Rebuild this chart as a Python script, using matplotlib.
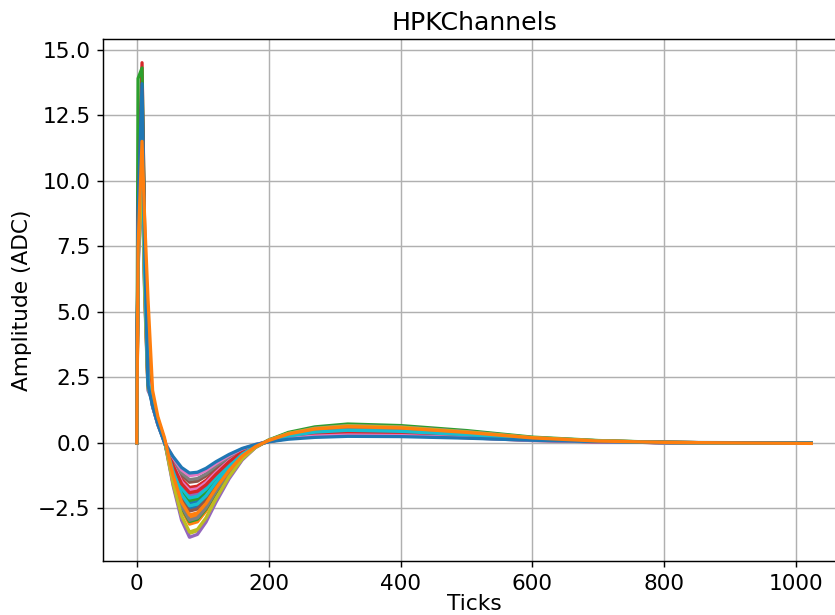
import matplotlib
matplotlib.use("Agg")
import matplotlib.pyplot as plt

# sample ticks used for every channel
ticks = [0, 2, 8, 12, 17, 24, 32, 42, 55, 68, 80, 92, 105, 120, 140, 160,
         180, 200, 230, 270, 320, 400, 500, 600, 700, 800, 900, 1023]

# amplitudes (ADC) per channel at the ticks above
ch00 = [0, 8.3, 12.8, 7.0, 2.6, 1.5, 0.8, 0.05, -1.04, -1.89, -2.3, -2.23, -1.93, -1.45, -0.87, -0.41,
        -0.12, 0.07, 0.25, 0.39, 0.46, 0.42, 0.3, 0.14, 0.06, 0.01, 0.0, -0.01]
ch01 = [0, 7.2, 11.0, 6.1, 2.2, 1.6, 0.85, 0.1, -1.28, -2.34, -2.85, -2.76, -2.39, -1.8, -1.08, -0.51,
        -0.14, 0.09, 0.33, 0.51, 0.6, 0.55, 0.39, 0.18, 0.07, 0.02, 0.0, -0.01]
ch02 = [0, 8.6, 13.2, 7.3, 2.6, 1.5, 0.8, 0.05, -0.99, -1.8, -2.2, -2.13, -1.85, -1.39, -0.84, -0.4,
        -0.11, 0.07, 0.25, 0.38, 0.45, 0.41, 0.29, 0.14, 0.05, 0.01, 0.0, -0.01]
ch03 = [0, 9.4, 14.5, 8.0, 2.9, 1.4, 0.75, 0.05, -0.77, -1.39, -1.7, -1.65, -1.43, -1.07, -0.65, -0.31,
        -0.09, 0.05, 0.19, 0.3, 0.35, 0.32, 0.23, 0.11, 0.04, 0.01, 0.0, -0.01]
ch04 = [0, 7.8, 12.0, 6.6, 2.4, 1.5, 0.8, 0.05, -0.9, -1.64, -2.0, -1.94, -1.68, -1.26, -0.76, -0.36,
        -0.1, 0.06, 0.22, 0.34, 0.4, 0.37, 0.26, 0.12, 0.05, 0.01, 0.0, -0.01]
ch05 = [0, 8.1, 12.5, 6.9, 2.5, 1.4, 0.7, 0.05, -0.68, -1.23, -1.5, -1.46, -1.26, -0.95, -0.57, -0.27,
        -0.08, 0.05, 0.18, 0.27, 0.32, 0.29, 0.21, 0.1, 0.04, 0.01, 0.0, -0.01]
ch06 = [0, 7.7, 11.8, 6.5, 2.4, 1.5, 0.75, 0.05, -0.81, -1.48, -1.8, -1.75, -1.51, -1.13, -0.68, -0.32,
        -0.09, 0.06, 0.2, 0.31, 0.37, 0.34, 0.24, 0.11, 0.04, 0.01, 0.0, -0.01]
ch07 = [0, 7.9, 12.2, 6.7, 2.4, 1.4, 0.7, 0.05, -0.63, -1.15, -1.4, -1.36, -1.18, -0.88, -0.53, -0.25,
        -0.07, 0.05, 0.17, 0.26, 0.3, 0.28, 0.2, 0.09, 0.04, 0.01, 0.0, -0.01]
ch08 = [0, 6.8, 10.5, 5.8, 2.1, 1.6, 0.9, 0.1, -1.55, -2.83, -3.45, -3.35, -2.9, -2.17, -1.31, -0.62,
        -0.17, 0.1, 0.37, 0.58, 0.68, 0.63, 0.44, 0.2, 0.08, 0.02, 0.0, -0.01]
ch09 = [0, 8.2, 12.6, 6.9, 2.5, 1.5, 0.8, 0.05, -0.95, -1.72, -2.1, -2.04, -1.76, -1.32, -0.8, -0.38,
        -0.11, 0.06, 0.24, 0.37, 0.43, 0.4, 0.28, 0.13, 0.05, 0.01, 0.0, -0.01]
ch10 = [0, 8.5, 13.0, 7.2, 2.6, 1.5, 0.8, 0.05, -1.13, -2.05, -2.5, -2.43, -2.1, -1.58, -0.95, -0.45,
        -0.13, 0.08, 0.28, 0.43, 0.5, 0.46, 0.33, 0.15, 0.06, 0.02, 0.0, -0.01]
ch11 = [0, 7.0, 10.8, 5.9, 2.2, 1.6, 0.9, 0.1, -1.4, -2.54, -3.1, -3.01, -2.6, -1.95, -1.18, -0.56,
        -0.16, 0.09, 0.34, 0.53, 0.62, 0.57, 0.4, 0.19, 0.07, 0.02, 0.0, -0.01]
ch12 = [0, 13.9, 14.3, 7.9, 2.9, 1.6, 0.85, 0.1, -1.35, -2.46, -3.0, -2.91, -2.52, -1.89, -1.14, -0.54,
        -0.15, 0.11, 0.4, 0.61, 0.72, 0.66, 0.47, 0.22, 0.09, 0.02, 0.0, -0.01]
ch13 = [0, 8.8, 13.5, 7.4, 2.7, 1.5, 0.8, 0.05, -0.86, -1.56, -1.9, -1.84, -1.6, -1.2, -0.72, -0.34,
        -0.1, 0.06, 0.21, 0.32, 0.38, 0.35, 0.25, 0.11, 0.05, 0.01, 0.0, -0.01]
ch14 = [0, 6.6, 10.2, 5.6, 2.0, 1.6, 0.9, 0.1, -1.62, -2.95, -3.6, -3.49, -3.02, -2.27, -1.37, -0.65,
        -0.18, 0.1, 0.36, 0.56, 0.66, 0.61, 0.43, 0.2, 0.08, 0.02, 0.0, -0.01]
ch15 = [0, 7.5, 11.5, 6.3, 2.3, 1.5, 0.8, 0.05, -1.17, -2.13, -2.6, -2.52, -2.18, -1.64, -0.99, -0.47,
        -0.13, 0.08, 0.29, 0.44, 0.52, 0.48, 0.34, 0.16, 0.06, 0.02, 0.0, -0.01]
ch16 = [0, 8.1, 12.4, 6.8, 2.5, 1.4, 0.7, 0.05, -0.56, -1.03, -1.25, -1.21, -1.05, -0.79, -0.48, -0.23,
        -0.06, 0.05, 0.17, 0.26, 0.3, 0.28, 0.2, 0.09, 0.04, 0.01, 0.0, -0.01]
ch17 = [0, 7.3, 11.2, 6.2, 2.2, 1.6, 0.85, 0.1, -1.33, -2.42, -2.95, -2.86, -2.48, -1.86, -1.12, -0.53,
        -0.15, 0.09, 0.32, 0.49, 0.58, 0.53, 0.38, 0.17, 0.07, 0.02, 0.0, -0.01]
ch18 = [0, 6.9, 10.6, 5.8, 2.1, 1.6, 0.9, 0.1, -1.53, -2.79, -3.4, -3.3, -2.86, -2.14, -1.29, -0.61,
        -0.17, 0.1, 0.36, 0.55, 0.65, 0.6, 0.42, 0.2, 0.08, 0.02, 0.0, -0.01]
ch19 = [0, 7.8, 12.0, 6.6, 2.4, 1.5, 0.8, 0.05, -1.08, -1.97, -2.4, -2.33, -2.02, -1.51, -0.91, -0.43,
        -0.12, 0.07, 0.26, 0.41, 0.48, 0.44, 0.31, 0.14, 0.06, 0.01, 0.0, -0.01]
ch20 = [0, 8.9, 13.7, 7.5, 2.2, 1.4, 0.7, 0.0, -0.52, -0.94, -1.15, -1.12, -0.97, -0.72, -0.44, -0.21,
        -0.06, 0.04, 0.14, 0.21, 0.25, 0.24, 0.18, 0.1, 0.05, 0.02, 0.01, 0.0]
ch21 = [0, 7.5, 11.5, 8.5, 5.5, 2.0, 1.0, 0.2, -1.24, -2.26, -2.75, -2.67, -2.31, -1.73, -1.05, -0.5,
        -0.14, 0.09, 0.34, 0.53, 0.62, 0.57, 0.4, 0.19, 0.07, 0.02, 0.0, -0.02]

channels = [ch00, ch01, ch02, ch03, ch04, ch05, ch06, ch07, ch08, ch09, ch10,
            ch11, ch12, ch13, ch14, ch15, ch16, ch17, ch18, ch19, ch20, ch21]

plt.rcParams['font.size'] = 12

fig = plt.figure(figsize=(835 / 130, 615 / 130), dpi=130)
ax = fig.add_axes([0.1234, 0.0878, 0.8886, 0.8488])
for ch in channels:
    ax.plot(ticks, ch, linewidth=1.8)
ax.set_title("HPKChannels", fontsize=14, pad=5)
ax.set_xlabel("Ticks", labelpad=0)
ax.set_ylabel("Amplitude (ADC)", labelpad=3)
ax.spines['right'].set_visible(False)
ax.grid(True)
fig.savefig("out.png", dpi=130)
